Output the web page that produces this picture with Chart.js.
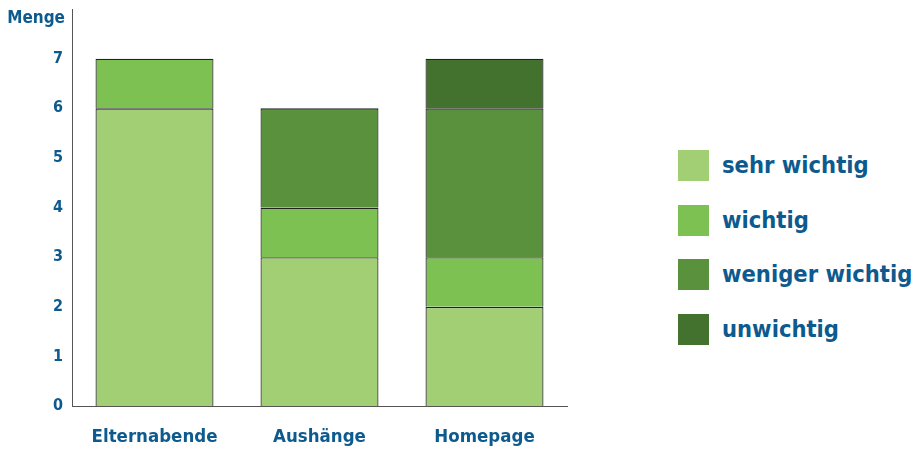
<!DOCTYPE html>
<html>
<head>
<meta charset="utf-8">
<script src="https://cdn.jsdelivr.net/npm/chart.js@4/dist/chart.umd.min.js"></script>
<style>
    body { margin: 0; background: #fff; width: 915px; height: 450px; overflow: hidden; position: relative; }
    #wrap { position: absolute; left: 0; top: 0; width: 600px; height: 450px; }
    .legend { position: absolute; left: 678px; top: 150px; font-family: "DejaVu Sans Condensed", "DejaVu Sans", sans-serif; font-weight: bold; font-size: 23.5px; color: #0d5a8e; }
    .legend-row { height: 54.7px; display: flex; align-items: flex-start; }
    .legend-box { width: 31px; height: 31px; margin-right: 13px; }
    .legend-text { line-height: 31px; white-space: nowrap; }
</style>
</head>
<body>
<div id="wrap"><canvas id="chart" width="600" height="450"></canvas></div>
<div class="legend" id="legend"></div>
<script>
const categories = ['Elternabende', 'Aushänge', 'Homepage']
const seriesNames = ['sehr wichtig', 'wichtig', 'weniger wichtig', 'unwichtig']
const sehrWichtig = [6, 3, 2]
const wichtig = [1, 1, 1]
const wenigerWichtig = [null, 2, 3]
const unwichtig = [null, null, 1]
const yTicks = [0, 1, 2, 3, 4, 5, 6, 7]
const yMax = 8

const colors = ['#a3cf74', '#7dc152', '#5a913d', '#42722e']
const values = [sehrWichtig, wichtig, wenigerWichtig, unwichtig]
const textColor = '#0d5a8e'
const font = '"DejaVu Sans Condensed", "DejaVu Sans", sans-serif'

const datasets = seriesNames.map((name, i) => ({
    label: name,
    data: values[i],
    backgroundColor: colors[i],
    borderColor: '#222',
    // no bottom edge, so stacked segments share one line
    borderWidth: { top: 1.4, left: 1.2, right: 1.2, bottom: 0 },
    borderSkipped: false,
    barPercentage: 0.715,
    categoryPercentage: 1
}))

const mengeTitle = {
    id: 'mengeTitle',
    afterDraw(chart) {
        const ctx = chart.ctx
        ctx.save()
        ctx.font = 'bold 17px ' + font
        ctx.fillStyle = textColor
        ctx.textAlign = 'right'
        ctx.textBaseline = 'middle'
        ctx.fillText('Menge', chart.chartArea.left - 7, 19)
        ctx.restore()
    }
}

new Chart(document.getElementById('chart'), {
    type: 'bar',
    data: { labels: categories, datasets: datasets },
    options: {
        responsive: false,
        animation: false,
        layout: { padding: { top: 9, right: 33, left: 0, bottom: 0 } },
        plugins: { legend: { display: false }, tooltip: { enabled: false } },
        scales: {
            x: {
                stacked: true,
                grid: { display: false, drawTicks: false },
                border: { display: true, color: '#555', width: 1 },
                ticks: { color: textColor, font: { family: font, weight: 'bold', size: 18.5 }, padding: 20 },
                afterFit(axis) { axis.height = 44 }
            },
            y: {
                stacked: true,
                min: 0,
                max: yMax,
                grid: { display: false, drawTicks: false },
                border: { display: true, color: '#555', width: 1 },
                ticks: { color: textColor, font: { family: font, weight: 'bold', size: 16 }, padding: 9 },
                afterBuildTicks(axis) { axis.ticks = yTicks.map(v => ({ value: v })) },
                afterFit(axis) {
                    axis.width = 72
                    axis.paddingTop = 0
                    axis.paddingBottom = 0
                }
            }
        }
    },
    plugins: [mengeTitle]
})

// legend
const legend = document.getElementById('legend')
seriesNames.forEach((name, i) => {
    legend.innerHTML += (`
        <div class="legend-row">
            <div class="legend-box" style="background-color: ${colors[i]}"></div>
            <div class="legend-text">${name}</div>
        </div>
    `)
})
</script>
</body>
</html>
